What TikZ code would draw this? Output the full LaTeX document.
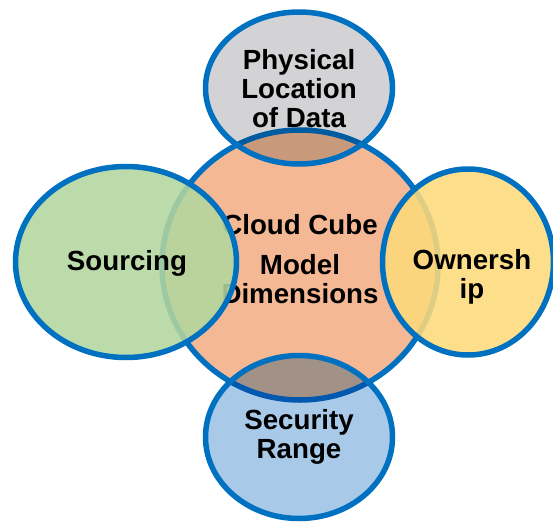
\documentclass[tikz,border=0pt]{standalone}
\usepackage{fontspec}
\setmainfont{Liberation Sans}
\usetikzlibrary{shapes.geometric}

\definecolor{cubeblue}{HTML}{0070C0}
\definecolor{cubeorange}{HTML}{F4B994}
\definecolor{physgray}{HTML}{D3D3D5}
\definecolor{sourcegreen}{HTML}{B3D69E}
\definecolor{ownyellow}{HTML}{FDDA7A}
\definecolor{secblue}{HTML}{A9C9E9}

\tikzset{
  dim/.style={ellipse, draw=cubeblue, line width=5.5pt, inner sep=0pt},
  mixfill/.style={preaction={fill=#1, blend mode=multiply}},
  dimtext/.style={font={\bfseries\fontsize{27.7}{29}\selectfont}, align=center, text=black}
}

\begin{document}
\begin{tikzpicture}[x=1pt,y=-1pt,line cap=round,line join=round]
\useasboundingbox (0,0) rectangle (553,521);

% Cube in the middle
\node[dim, fill=cubeorange, minimum width=276pt, minimum height=270pt] (cube) at (300,265) {};
\node[dimtext] (cube-t) at (300,259) {Cloud Cube\\[11pt]Model\\Dimensions};

% Dimensions round the cube
\node[dim, mixfill=physgray, minimum width=187pt, minimum height=152pt] (phys) at (299,88) {};
\node[dimtext] (phys-t) at (299,88.5) {Physical\\Location\\of Data};

\node[dim, fill=sourcegreen, fill opacity=0.88, minimum width=221pt, minimum height=191pt] (source) at (126,262) {};
\node[dimtext] (source-t) at (127,263) {Sourcing};

\node[dim, fill=ownyellow, fill opacity=0.88, minimum width=171pt, minimum height=186pt] (own) at (468,262) {};
\node[dimtext] (own-t) at (472,277) {Ownersh\\ip};

\node[dim, mixfill=secblue, minimum width=187pt, minimum height=163pt] (sec) at (299,437) {};
\node[dimtext] (sec-t) at (299,436.5) {Security\\Range};

\end{tikzpicture}
\end{document}
